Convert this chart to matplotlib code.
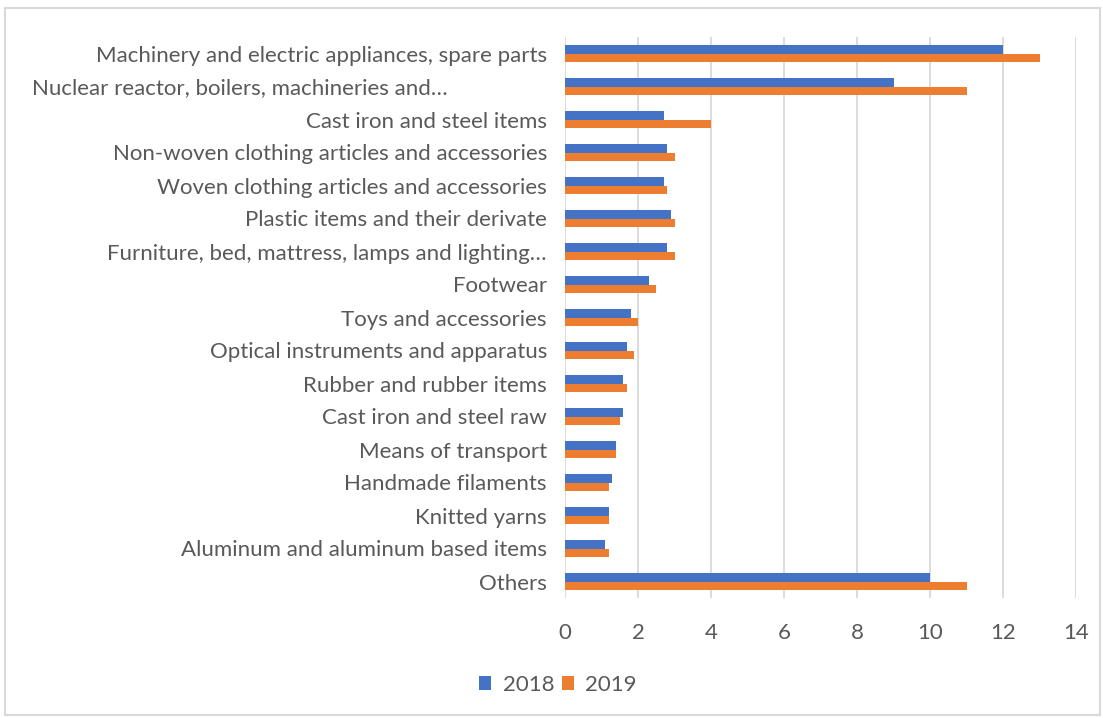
import numpy as np
import matplotlib.pyplot as plt
import matplotlib.transforms as mtransforms
from matplotlib.patches import Rectangle

plt.rcParams['font.family'] = ['Lato', 'DejaVu Sans']

categories = [
    'Machinery and electric appliances, spare parts',
    'Nuclear reactor, boilers, machineries and\u2026',
    'Cast iron and steel items',
    'Non-woven clothing articles and accessories',
    'Woven clothing articles and accessories',
    'Plastic items and their derivate',
    'Furniture, bed, mattress, lamps and lighting\u2026',
    'Footwear',
    'Toys and accessories',
    'Optical instruments and apparatus',
    'Rubber and rubber items',
    'Cast iron and steel raw',
    'Means of transport',
    'Handmade filaments',
    'Knitted yarns',
    'Aluminum and aluminum based items',
    'Others',
]
v2018 = [12, 9, 2.7, 2.8, 2.7, 2.9, 2.8, 2.3, 1.8, 1.7, 1.6, 1.6, 1.4, 1.3, 1.2, 1.1, 10]
v2019 = [13, 11, 4.0, 3.0, 2.8, 3.0, 3.0, 2.5, 2.0, 1.9, 1.7, 1.5, 1.4, 1.2, 1.2, 1.2, 11]

blue = '#4472c4'
orange = '#ed7d31'
grid = '#d9d9d9'
text = '#595959'

fig = plt.figure(figsize=(11.03, 7.18), dpi=100)
ax = fig.add_axes([565 / 1103, 1 - 598 / 718, (1076 - 565) / 1103, 561 / 718])

y = np.arange(len(categories))
h = 0.27
ax.barh(y - h / 2, v2018, height=h, color=blue, label='2018', zorder=3)
ax.barh(y + h / 2, v2019, height=h, color=orange, label='2019', zorder=3)

ax.set_xlim(0, 14)
ax.set_ylim(len(categories) - 0.5, -0.5)
ax.set_xticks(range(0, 15, 2))
ax.set_yticks(y)
# the truncated second label sits left-aligned in the original, drawn below
labels = list(categories)
labels[1] = ''
ax.set_yticklabels(labels)
ax.xaxis.grid(True, color=grid, linewidth=1.3, zorder=0)
for s in ax.spines.values():
    s.set_visible(False)
ax.tick_params(length=0, colors=text, labelsize=16)
ax.tick_params(axis='x', pad=18)
ax.tick_params(axis='y', pad=13)

trans = mtransforms.blended_transform_factory(fig.transFigure, ax.transData)
fig.text(32 / 1103, y[1], categories[1], transform=trans, ha='left',
         va='center_baseline', fontsize=16, color=text)

ax.legend(loc='center', bbox_to_anchor=(558 / 1103, 1 - 685 / 718),
          bbox_transform=fig.transFigure, ncol=2, frameon=False,
          fontsize=16, labelcolor=text, handlelength=0.55, handleheight=0.55,
          handletextpad=0.5, columnspacing=0.35)

fig.patches.append(Rectangle((5 / 1103, 1 - 715 / 718), 1095 / 1103, 707 / 718,
                             transform=fig.transFigure, fill=False,
                             edgecolor=grid, linewidth=1.5))

fig.savefig('out.png', dpi=100)
